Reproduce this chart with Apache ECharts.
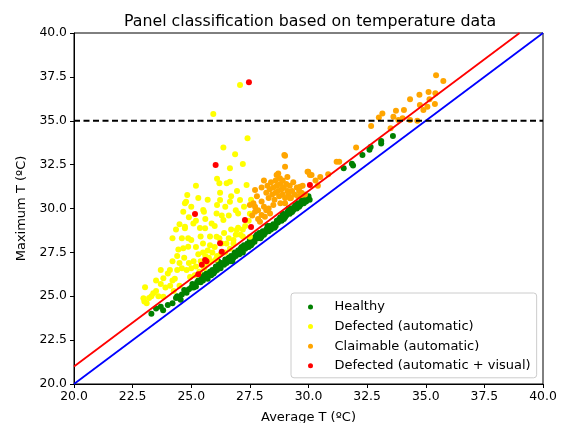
<!DOCTYPE html>
<html>
<head>
<meta charset="utf-8">
<script src="https://cdn.jsdelivr.net/npm/echarts@6/dist/echarts.min.js"></script>
<style>html,body{margin:0;padding:0;background:#fff}#c{width:564px;height:423px}</style>
</head>
<body>
<div id="c"></div>
<script>
const xTicks = [20, 22.5, 25, 27.5, 30, 32.5, 35, 37.5, 40];
const yTicks = [20, 22.5, 25, 27.5, 30, 32.5, 35, 37.5, 40];

const healthy = [
[23.3,24.0],[23.5,24.3],[23.7,24.4],[23.8,24.2],[24.0,24.5],[24.2,24.6],[24.35,24.9],[24.4,25.0],[24.5,24.9],[24.55,24.8],
[24.6,25.1],[24.7,25.35],[24.8,25.2],[24.9,25.4],[25.0,25.5],[25.05,25.7],[25.1,25.5],[25.2,25.55],[25.25,25.8],[25.3,25.9],
[25.4,25.8],[25.45,26.0],[25.5,25.9],[25.5,26.2],[25.6,26.1],[25.65,26.3],[25.7,26.0],[25.8,26.4],[25.85,26.2],[25.9,26.5],
[25.95,26.3],[26.0,26.4],[26.05,26.7],[26.1,26.5],[26.15,27.0],[26.2,26.8],[26.25,26.6],[26.3,26.9],[26.4,26.8],[26.45,27.1],
[26.5,26.9],[26.55,27.1],[26.6,27.2],[26.65,27.0],[26.7,27.3],[26.75,27.0],[26.8,27.2],[26.85,27.5],[26.9,27.3],[27.0,27.6],
[27.05,27.4],[27.1,27.7],[27.15,27.8],[27.2,27.5],[27.25,27.9],[27.3,27.7],[27.35,27.8],[27.4,28.0],[27.45,27.8],[27.5,28.2],
[27.55,27.9],[27.6,28.0],[27.65,28.3],[27.7,28.1],[27.75,28.4],[27.8,28.5],[27.85,28.3],[27.9,28.6],[27.95,28.3],[28.0,28.4],
[28.05,28.7],[28.1,28.5],[28.15,28.6],[28.2,28.8],[28.25,29.0],[28.3,28.7],[28.35,29.0],[28.4,28.8],[28.45,29.0],[28.5,29.1],
[28.55,28.9],[28.6,29.0],[28.65,29.3],[28.7,29.2],[28.75,29.4],[28.8,29.5],[28.85,29.3],[28.9,29.7],[28.95,29.4],[29.0,29.5],
[29.05,29.6],[29.1,29.8],[29.15,30.0],[29.2,29.7],[29.25,30.0],[29.3,29.8],[29.35,29.9],[29.4,30.1],[29.45,30.2],[29.5,30.0],
[29.55,30.3],[29.6,30.1],[29.65,30.2],[29.7,30.4],[29.75,30.5],[29.8,30.3],[29.85,30.6],[29.9,30.4],[30.0,30.7],[30.05,30.5],
[31.5,32.3],[31.85,32.55],[31.9,32.45],[32.3,33.05],[32.6,33.35],[32.65,33.5],[33.1,33.85],[33.1,33.7],[33.6,34.13]
];

const defectedAuto = [
[27.08,37.04],[25.94,35.38],[27.4,34.0],[26.37,33.47],[26.87,33.09],[26.65,32.29],[27.2,32.54],[26.1,31.7],[26.2,31.44],[26.51,31.44],
[27.36,31.34],[26.65,31.53],[26.23,30.9],[26.23,30.48],[26.65,30.39],[27.08,30.48],[24.83,30.77],[24.78,30.39],[24.73,30.3],[24.66,29.82],
[25.54,29.82],[25.51,29.91],[26.08,29.72],[27.0,29.72],[25.87,29.15],[26.37,29.34],[25.09,29.15],[24.35,28.81],[24.73,28.96],[24.73,28.87],
[25.37,28.89],[25.59,28.87],[26.94,28.77],[24.87,28.3],[26.08,28.39],[27.5,28.39],[24.45,27.67],[24.87,27.82],[24.66,27.73],[24.09,26.5],
[23.81,26.02],[23.03,25.51],[22.96,24.88],[23.38,25.17],[23.81,24.97],[23.1,24.6],[23.2,24.9],[23.0,24.7],[23.3,25.0],[23.5,25.3],
[23.6,25.0],[23.9,25.5],[24.1,25.6],[24.2,25.9],[24.0,26.3],[24.3,26.0],[24.4,26.5],[24.6,26.6],[24.5,26.9],[24.8,26.5],
[24.9,26.9],[25.0,26.6],[25.1,27.0],[25.2,26.7],[25.3,27.4],[25.4,27.0],[25.5,27.5],[25.6,27.3],[25.7,27.6],[25.75,27.2],
[25.8,27.9],[25.9,27.5],[26.0,27.8],[26.1,27.3],[26.2,28.3],[26.3,28.0],[26.4,28.6],[26.5,28.0],[26.6,28.3],[26.7,28.8],
[26.8,28.2],[26.9,28.5],[27.0,28.9],[27.1,28.5],[27.2,28.8],[27.3,29.0],[27.25,30.1],[26.9,29.9],[26.7,30.7],[26.45,30.1],
[26.1,30.2],[25.7,30.5],[25.3,30.6],[25.0,30.1],[24.9,29.5],[25.2,29.3],[25.6,29.4],[26.0,29.0],[26.3,29.6],[26.6,29.6],
[25.4,28.4],[25.0,28.2],[24.6,28.3],[25.8,28.4],[24.4,27.3],[24.2,27.0],[24.7,27.2],[25.2,27.8],[25.5,28.0],[26.8,28.0],
[27.2,28.4],[25.15,26.2],[25.35,26.4],[24.95,26.1],[25.55,26.6],[25.65,26.9],[25.85,27.0],[26.05,27.1],[26.25,27.4],[26.45,27.5],
[26.65,27.7],[24.5,25.6],[24.25,25.3],[23.7,25.7],[23.5,25.9],[27.45,29.3],[27.5,29.7],[27.55,30.5],[26.95,31.0],[25.2,31.3],
[24.5,29.1],[24.2,28.3],[23.7,26.5]
];

const claimable = [
[28.97,33.05],[29.0,33.0],[28.71,32.0],[28.78,31.72],[29.0,32.38],[29.99,32.1],[30.13,31.91],[30.84,31.95],[31.2,32.67],[31.31,32.67],
[32.03,33.47],[32.67,34.7],[33.0,35.19],[33.15,35.42],[33.5,34.57],[33.62,35.23],[33.73,35.57],[33.83,35.04],[34.01,35.14],[34.07,35.61],
[34.33,35.04],[34.33,36.22],[34.64,35.0],[34.75,35.9],[34.73,36.48],[34.9,35.61],[35.12,36.64],[35.07,35.8],[35.16,36.22],[35.41,36.56],
[35.39,35.95],[35.44,37.59],[35.75,37.26],
[28.2,30.9],[28.25,31.3],[28.3,30.6],[28.35,31.1],[28.4,31.5],[28.45,30.8],[28.5,31.2],[28.55,30.5],[28.6,31.6],[28.6,30.9],
[28.65,31.3],[28.7,31.0],[28.75,30.7],[28.8,31.4],[28.85,31.1],[28.9,30.8],[28.9,31.6],[28.95,31.2],[29.0,30.6],[29.05,31.4],
[29.1,31.0],[29.1,31.8],[29.15,30.8],[29.2,31.3],[29.25,30.6],[29.3,31.0],[29.35,31.5],[29.4,30.8],[29.5,31.2],[29.55,30.7],
[29.6,31.0],[29.7,30.9],[29.75,31.3],[29.85,30.8],[29.64,31.24],[29.71,30.77],[29.21,30.58],[28.36,29.72],[28.14,29.53],[27.93,29.25],
[27.72,29.82],[27.65,30.3],[27.72,31.05],[27.72,30.1],[28.0,29.63],[28.0,30.4],[27.85,29.9],[28.1,30.1],[28.3,30.0],[28.5,30.2],
[28.8,30.3],[29.0,30.3],[28.64,31.91],[30.06,31.91],[30.3,31.6],[30.5,31.8],[29.96,32.1],[28.1,31.6],[28.0,31.2],[27.8,30.7],
[27.5,30.2],[27.6,29.6],[27.85,29.4],[28.2,29.9],[30.4,31.3]
];

const defectedVisual = [
[27.46,37.2],[26.04,32.48],[25.16,29.69],[27.29,29.34],[27.55,28.95],[26.23,28.02],[26.3,27.54],[25.59,27.07],[25.45,26.8],[25.65,27.0],
[25.3,26.25],[30.06,31.34]
];

const lineIdentity = [[20,20],[40,40]];
const lineOffset = [[20,21],[39,40]];
const lineLimit = [[20,35],[40,35]];

const FONT = 'DejaVu Sans';
const chart = echarts.init(document.getElementById('c'), null, {renderer:'canvas'});

function scatter(name, data, color) {
  return {name, type:'scatter', data, symbolSize:6, itemStyle:{color, opacity:1}, z:2};
}
function line(data, color, dashed) {
  return {type:'line', data, showSymbol:false, symbol:'none', silent:true, z:5,
    lineStyle:{color, width:1.8, type: dashed ? [6,3.5] : 'solid'}};
}

chart.setOption({
  animation:false,
  backgroundColor:'#fff',
  textStyle:{fontFamily:FONT},
  title:{text:'Panel classification based on temperature data', left:305, top:9, textAlign:'center',
    textStyle:{fontFamily:FONT, fontSize:15.8, fontWeight:'normal', color:'#000'}},
  grid:{left:74, right:21, top:33, bottom:39, show:true, borderColor:'#000', borderWidth:1,
    backgroundColor:'transparent', containLabel:false, outerBoundsMode:'none'},
  xAxis:{type:'value', min:xTicks[0], max:xTicks[xTicks.length-1], interval:2.5,
    name:'Average T (ºC)', nameLocation:'middle', nameGap:27,
    nameTextStyle:{fontFamily:FONT, fontSize:13, color:'#000', verticalAlign:'top'},
    axisLine:{show:true, lineStyle:{color:'#000', width:1}},
    axisTick:{show:true, length:4, lineStyle:{color:'#000'}},
    axisLabel:{margin:7, fontFamily:FONT, fontSize:12.4, color:'#000', formatter:v=>v.toFixed(1), showMaxLabel:true},
    splitLine:{show:false}},
  yAxis:{type:'value', min:yTicks[0], max:yTicks[yTicks.length-1], interval:2.5,
    name:'Maximum T (ºC)', nameLocation:'middle', nameGap:46,
    nameTextStyle:{fontFamily:FONT, fontSize:13, color:'#000'},
    axisLine:{show:true, lineStyle:{color:'#000', width:1}},
    axisTick:{show:true, length:4, lineStyle:{color:'#000'}},
    axisLabel:{margin:7, fontFamily:FONT, fontSize:12.4, color:'#000', formatter:v=>v.toFixed(1)},
    splitLine:{show:false}},
  legend:{data:['Healthy','Defected (automatic)','Claimable (automatic)','Defected (automatic + visual)'],
    orient:'vertical', left:291, top:293, padding:[7,6,5,17], itemGap:5.6, itemWidth:38, itemHeight:5,
    icon:'circle', backgroundColor:'rgba(255,255,255,0.8)', borderColor:'#cccccc', borderWidth:1, borderRadius:3,
    textStyle:{fontFamily:FONT, fontSize:13, color:'#000', lineHeight:14}},
  series:[
    scatter('Healthy', healthy, '#008000'),
    scatter('Defected (automatic)', defectedAuto, '#ffff00'),
    scatter('Claimable (automatic)', claimable, '#ffa500'),
    scatter('Defected (automatic + visual)', defectedVisual, '#ff0000'),
    line(lineIdentity, '#0000ff', false),
    line(lineOffset, '#ff0000', false),
    line(lineLimit, '#000000', true)
  ]
});
</script>
</body>
</html>
